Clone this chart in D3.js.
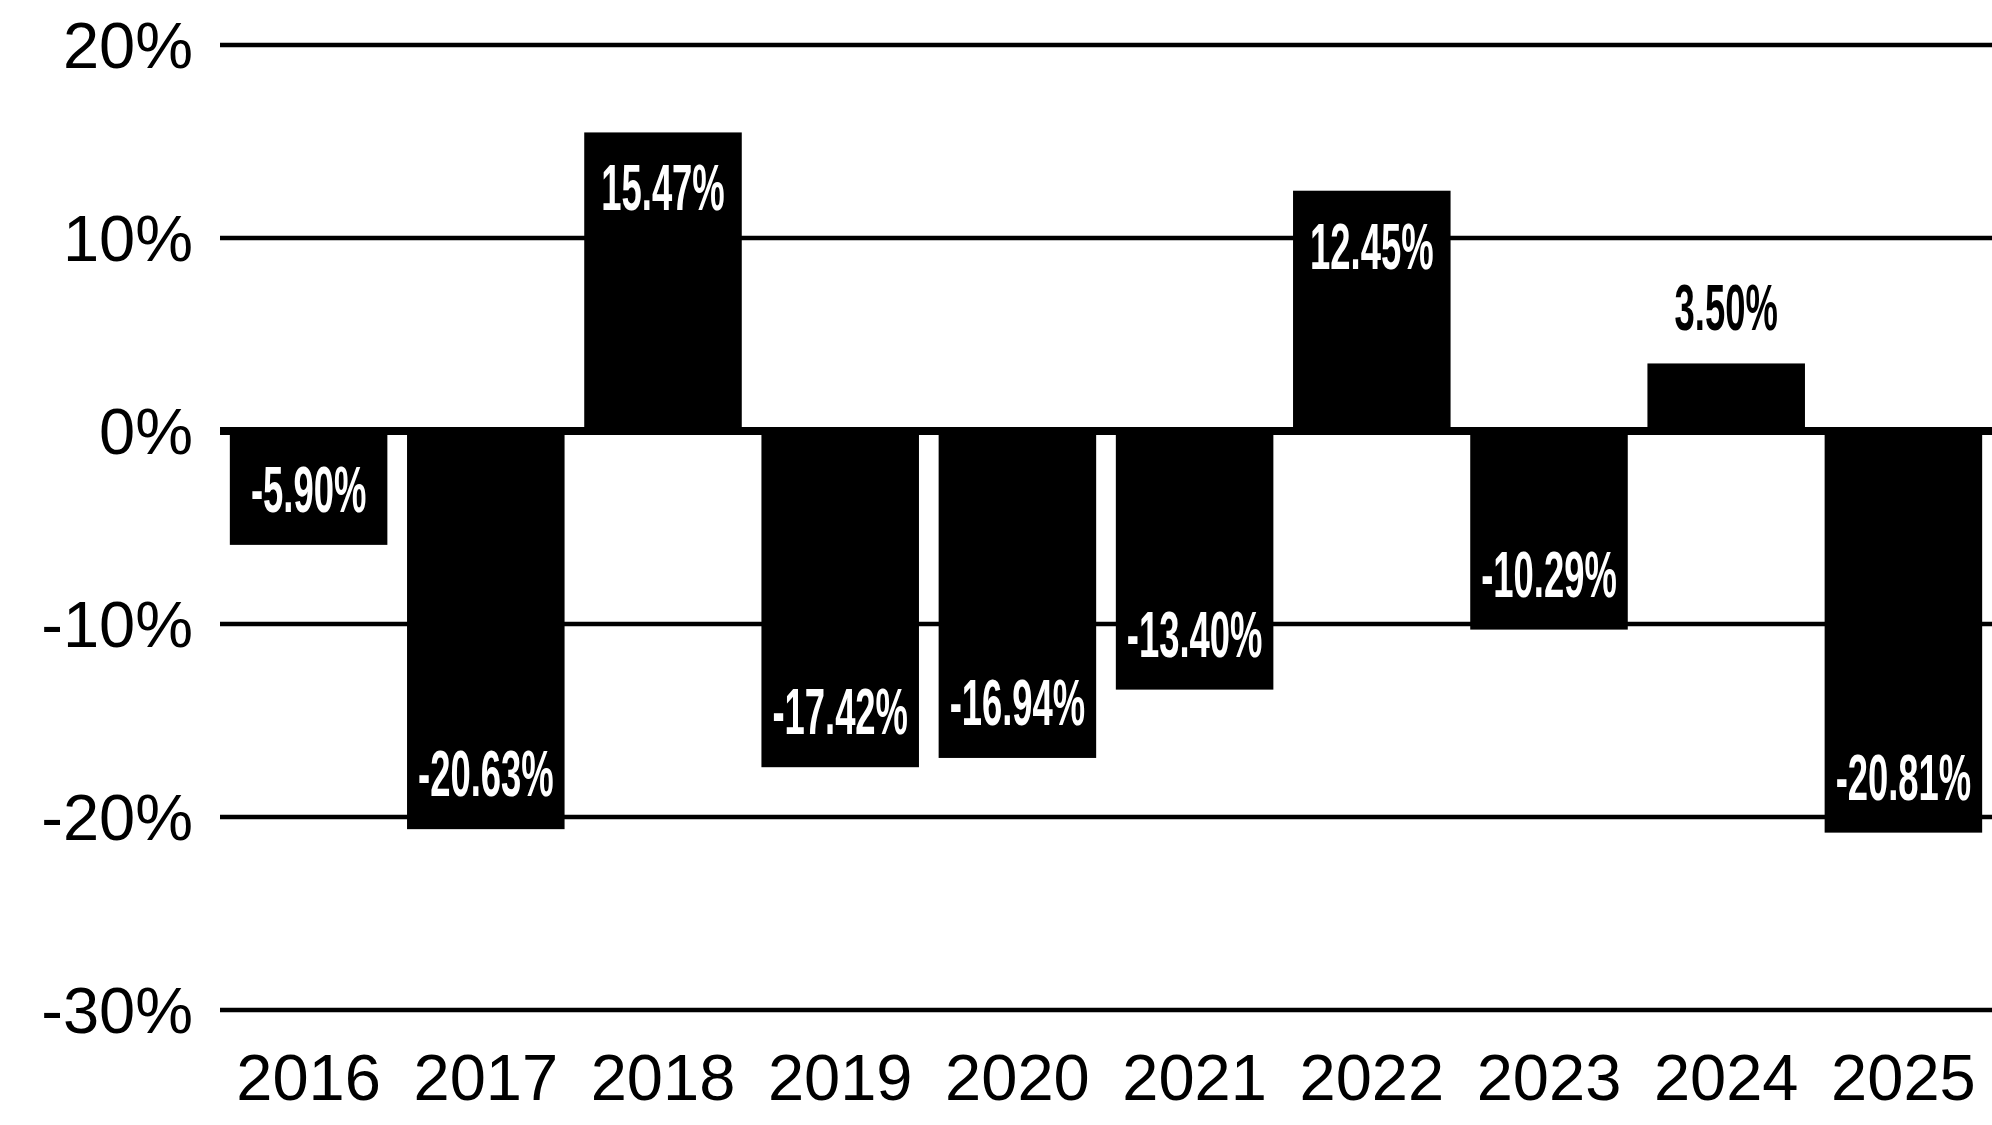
<!DOCTYPE html>
<html>
<head>
<meta charset="utf-8">
<script src="https://cdn.jsdelivr.net/npm/d3@7"></script>
<style>
  html, body { margin: 0; padding: 0; background: #fff; }
  svg { display: block; }
  text { font-family: "Liberation Sans", Arial, sans-serif; }
</style>
</head>
<body>
<div id="chart"></div>
<script>
const years = ['2016', '2017', '2018', '2019', '2020', '2021', '2022', '2023', '2024', '2025']
const returns = [-5.90, -20.63, 15.47, -17.42, -16.94, -13.40, 12.45, -10.29, 3.50, -20.81]
const yTicks = [20, 10, 0, -10, -20, -30]
const yTickLabels = ['20%', '10%', '0%', '-10%', '-20%', '-30%']

const width = 1992
const height = 1125

const svg = d3.select('#chart').append('svg')
  .attr('width', width)
  .attr('height', height)

const x = d3.scaleBand()
  .domain(years)
  .range([220, 1992])
  .paddingInner(0.111)
  .paddingOuter(0.0555)

const y = d3.scaleLinear()
  .domain([-30, 20])
  .range([1010, 45])

// gridlines + y labels
const grid = svg.append('g')
  .selectAll('g')
  .data(yTicks)
  .join('g')
  .attr('transform', d => 'translate(0,' + y(d) + ')')

grid.append('line')
  .attr('x1', 220)
  .attr('x2', width)
  .attr('stroke', '#000')
  .attr('stroke-width', d => d === 0 ? 8 : 4.5)

grid.append('text')
  .attr('x', 193)
  .attr('dy', 23)
  .attr('text-anchor', 'end')
  .attr('font-size', 65)
  .attr('fill', '#000')
  .text((d, i) => yTickLabels[i])

const data = years.map((yr, i) => ({ year: yr, value: returns[i] }))

// bars
svg.append('g')
  .selectAll('rect')
  .data(data)
  .join('rect')
  .attr('x', d => x(d.year))
  .attr('width', x.bandwidth())
  .attr('y', d => Math.min(y(d.value), y(0)))
  .attr('height', d => Math.abs(y(d.value) - y(0)))
  .attr('fill', '#000')

// redraw zero line on top of bars
svg.append('line')
  .attr('x1', 220)
  .attr('x2', width)
  .attr('y1', y(0))
  .attr('y2', y(0))
  .attr('stroke', '#000')
  .attr('stroke-width', 8)

// value labels
const inside = d => Math.abs(y(d.value) - y(0)) > 100
const labelY = d => {
  if (d.value >= 0) return inside(d) ? y(d.value) + 78 : y(d.value) - 33
  return y(d.value) - 33
}

svg.append('g')
  .selectAll('text')
  .data(data)
  .join('text')
  .attr('transform', d => 'translate(' + (x(d.year) + x.bandwidth() / 2) + ',' + labelY(d) + ') scale(0.56,1)')
  .attr('text-anchor', 'middle')
  .attr('font-size', 65)
  .attr('font-weight', 'bold')
  .attr('fill', d => inside(d) ? '#fff' : '#000')
  .text(d => d.value.toFixed(2) + '%')

// year labels
svg.append('g')
  .selectAll('text')
  .data(years)
  .join('text')
  .attr('x', d => x(d) + x.bandwidth() / 2)
  .attr('y', 1100)
  .attr('text-anchor', 'middle')
  .attr('font-size', 65)
  .attr('fill', '#000')
  .text(d => d)
</script>
</body>
</html>
